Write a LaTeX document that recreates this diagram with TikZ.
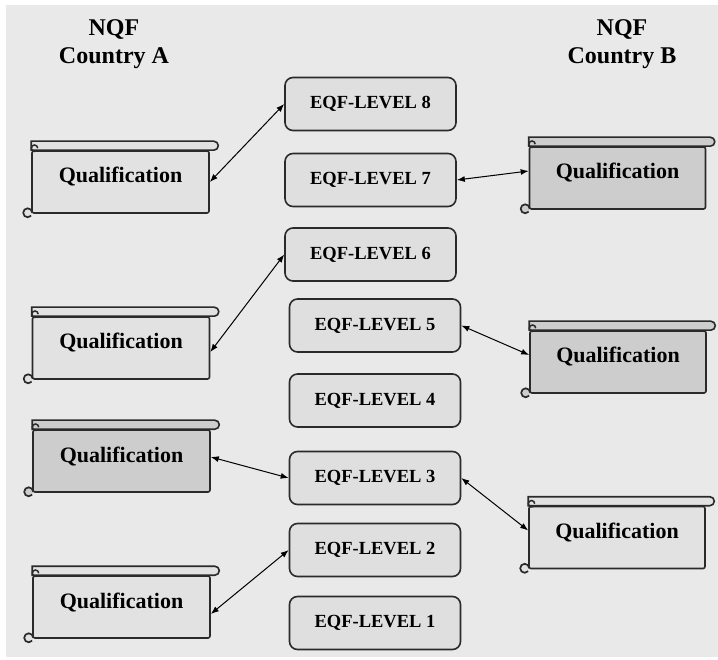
\documentclass[tikz,border=0pt]{standalone}
\usepackage{fontspec}
\setmainfont{LiberationSerif}[Extension=.ttf,UprightFont=*-Regular,BoldFont=*-Bold]
\usetikzlibrary{arrows.meta,calc}
\definecolor{bggray}{HTML}{E9E9E9}
\definecolor{boxgray}{HTML}{DFDFDF}
\definecolor{scrolllight}{HTML}{E2E2E2}
\definecolor{scrolldark}{HTML}{CDCDCD}
\definecolor{edge}{HTML}{2A2A2A}
\begin{document}
\begin{tikzpicture}[x=1pt,y=-1pt,
	eqf/.style={draw=edge,line width=1.6pt,fill=boxgray,rounded corners=8pt,minimum width=171pt,minimum height=53pt,font=\fontsize{18.5}{20}\selectfont\bfseries},
	scroll/.style={draw=edge,line width=1.6pt,fill=#1,rounded corners=2pt,minimum width=177pt,minimum height=62pt,text height=14pt,text depth=12pt,font=\fontsize{22}{24}\selectfont\bfseries},
	link/.style={{Latex[length=8pt,width=6pt]}-{Latex[length=8pt,width=6pt]},line width=1pt}]

	\useasboundingbox (0,0) rectangle (718,660);
	\fill[bggray] (6,5) rectangle (718,657); %background

	%headers
	\node[font=\fontsize{24}{28}\selectfont\bfseries,align=center] (nqfa) at (114,44) {NQF\\Country A};
	\node[font=\fontsize{24}{28}\selectfont\bfseries,align=center] (nqfb) at (622,44) {NQF\\Country B};

	%eqf levels
	\node[eqf] (l8) at (370.5,104) {EQF-LEVEL 8};
	\node[eqf] (l7) at (370.5,180) {EQF-LEVEL 7};
	\node[eqf] (l6) at (370.5,254.5) {EQF-LEVEL 6};
	\node[eqf] (l5) at (375,325.5) {EQF-LEVEL 5};
	\node[eqf] (l4) at (375,400.5) {EQF-LEVEL 4};
	\node[eqf] (l3) at (375,478) {EQF-LEVEL 3};
	\node[eqf] (l2) at (375,550) {EQF-LEVEL 2};
	\node[eqf] (l1) at (375,623) {EQF-LEVEL 1};

	%qualifications country A
	\node[scroll=scrolllight] (qa1) at (120.5,182) {Qualification};
	\node[scroll=scrolllight] (qa2) at (121,348) {Qualification};
	\node[scroll=scrolldark] (qa3) at (121.5,461) {Qualification};
	\node[scroll=scrolllight] (qa4) at (121.5,607) {Qualification};

	%qualifications country B
	\node[scroll=scrolldark,minimum width=176pt] (qb1) at (617.5,178) {Qualification};
	\node[scroll=scrolldark,minimum width=176pt] (qb2) at (618,362) {Qualification};
	\node[scroll=scrolllight,minimum width=176pt] (qb3) at (617,537.5) {Qualification};

	%scroll rolls
	\foreach \s/\c in {qa1/scrolllight,qa2/scrolllight,qa3/scrolldark,qa4/scrolllight,qb1/scrolldark,qb2/scrolldark,qb3/scrolllight}{
		\draw[draw=edge,line width=1.6pt,fill=\c] (\s.north west) -- ++(0,-9) -- ($(\s.north east)+(4,-9)$) arc[start angle=90,end angle=-90,radius=4.5pt] -- cycle; %top roll
		\draw[draw=edge,line width=1.5pt] ($(\s.north west)+(6.5,-2)$) arc[start angle=0,end angle=300,radius=3.2pt]; %top curl
		\draw[draw=edge,line width=1.7pt,fill=\c] ($(\s.south west)+(1,-1)$) arc[start angle=0,end angle=320,radius=4.5pt]; %bottom curl
	}

	%links
	\draw[link] (qa1.east) -- (l8.west);
	\draw[link] (l7.east) -- ([yshift=7pt]qb1.west);
	\draw[link] ([yshift=-4pt]qa2.east) -- (l6.west);
	\draw[link] (l5.east) -- ([yshift=7pt]qb2.west);
	\draw[link] ([yshift=4pt]qa3.east) -- (l3.west);
	\draw[link] (l3.east) -- ([yshift=7pt]qb3.west);
	\draw[link] ([yshift=-7pt]qa4.east) -- (l2.west);
\end{tikzpicture}
\end{document}
